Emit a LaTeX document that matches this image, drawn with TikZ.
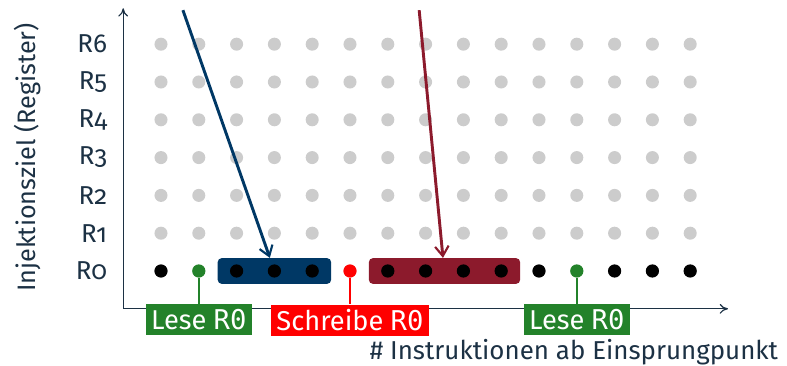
\documentclass[tikz,border=0pt]{standalone}
\usepackage{fontspec}
\setmainfont{Fira Sans}[Numbers=OldStyle]
\newfontfamily\monofont{DejaVu Sans Mono}
\usetikzlibrary{arrows.meta}
\definecolor{axc}{HTML}{1C3144}
\definecolor{navyc}{HTML}{003865}
\definecolor{wine}{HTML}{8C1A2C}
\definecolor{grn}{HTML}{23822A}
\definecolor{redc}{HTML}{FF0000}
\definecolor{dotgray}{HTML}{CCCCCC}
\tikzset{
  gdot/.style={circle, fill=dotgray, minimum size=0.345cm, inner sep=0pt},
  bdot/.style={circle, fill=black, minimum size=0.35cm, inner sep=0pt},
  cdot/.style={circle, fill=#1, minimum size=0.35cm, inner sep=0pt},
  regbox/.style={rounded corners=3pt, fill=#1, minimum height=0.68cm, inner sep=0pt},
  lbl/.style={fill=#1, text=white, minimum height=0.82cm, inner xsep=4pt, inner ysep=0pt, font=\fontsize{20.5}{22}\selectfont},
  axisline/.style={draw=axc, line width=0.9pt, {To[length=2.2mm,width=2.6mm]}-{To[length=2.2mm,width=2.6mm]}},
  pointer/.style={draw=#1, line width=2.2pt, -{Straight Barb[length=2.6mm,width=3.6mm,line width=1.6pt]}},
  stem/.style={draw=#1, line width=1.3pt},
  ticklbl/.style={anchor=east, text=axc},
}
\begin{document}
\begin{tikzpicture}[x=1cm,y=1cm, font=\fontsize{19.5}{22}\selectfont]
\useasboundingbox (-4.259,-2.513) rectangle (16.561,7.169);
% axes
\coordinate (ytop) at (-1,6.95);
\coordinate (xend) at (15,-1);
\draw[axisline] (ytop) |- (xend);
% grey dots
\foreach \i in {0,...,14} {
  \foreach \j in {1,...,6} {
    \node[gdot] (g-\i-\j) at (\i,\j) {};
  }
}
% register boxes
\node[regbox=navyc, minimum width=3cm] (nb) at (3,0) {};
\node[regbox=wine, minimum width=4cm] (rb) at (7.5,0) {};
% row 0 dots
\foreach \i in {0,2,3,4,6,7,8,9,10,12,13,14} {
  \node[bdot] (d-\i) at (\i,0) {};
}
\node[cdot=grn] (d-1) at (1,0) {};
\node[cdot=redc] (d-5) at (5,0) {};
\node[cdot=grn] (d-11) at (11,0) {};
% tick labels
\foreach \j in {0,...,6} {
  \node[ticklbl] (r-\j) at (-1.3,\j) {R\j};
}
% labels
\node[lbl=grn] (l1) at (1,-1.28) {Lese {\monofont R0}};
\node[lbl=redc] (l5) at (5,-1.3) {Schreibe {\monofont R0}};
\node[lbl=grn] (l11) at (11,-1.28) {Lese {\monofont R0}};
\draw[stem=grn] (d-1) -- (l1);
\draw[stem=redc] (d-5) -- (l5);
\draw[stem=grn] (d-11) -- (l11);
% axis titles
\node[rotate=90, text=axc, font=\fontsize{19}{22}\selectfont] (ylab) at (-3.54,3) {Injektionsziel (Register)};
\node[anchor=base east, text=axc] (xlab) at (16.45,-2.33) {\# Instruktionen ab Einsprungpunkt};
% pointers from above
\coordinate (ns) at (0.58,6.9);
\coordinate (ws) at (6.83,6.9);
\draw[pointer=navyc] (ns) -- ([xshift=-0.12cm]nb.north);
\draw[pointer=wine] (ws) -- ([xshift=-0.04cm]rb.north);
\end{tikzpicture}
\end{document}
